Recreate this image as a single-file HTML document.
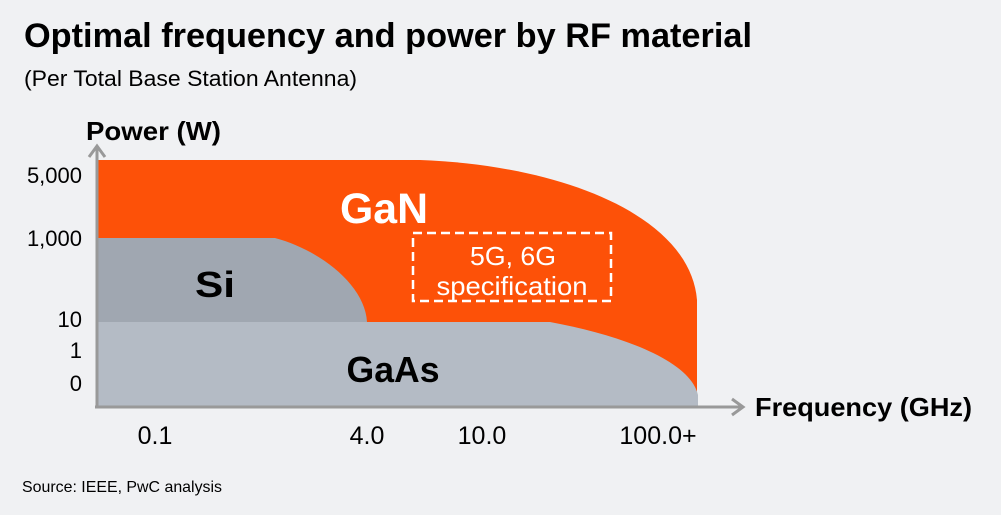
<!DOCTYPE html>
<html><head><meta charset="utf-8"><style>
body{margin:0;background:#f0f1f3;}
svg{display:block;font-family:"Liberation Sans",Arial,sans-serif;}
</style></head><body>
<svg width="1001" height="515" viewBox="0 0 1001 515">
<rect width="1001" height="515" fill="#f0f1f3"/>
<text x="24" y="47" font-size="34" font-weight="bold" fill="#000" textLength="728" lengthAdjust="spacingAndGlyphs">Optimal frequency and power by RF material</text>
<text x="24" y="86" font-size="22" fill="#000" textLength="333" lengthAdjust="spacingAndGlyphs">(Per Total Base Station Antenna)</text>
<text x="86" y="140" font-size="26" font-weight="bold" fill="#000" textLength="135" lengthAdjust="spacingAndGlyphs">Power (W)</text>
<path d="M98,160 L420,160 C560,165 690,215 697,300 L697,395 L98,395 Z" fill="#fd5108"/>
<path d="M98,238 L275,238 C320,250 365,285 367,322 L98,322 Z" fill="#a0a7b1"/>
<path d="M98,322 L550,322 C620,335 690,360 698,395 L698,407 L98,407 Z" fill="#b4bbc5"/>
<rect x="413" y="233" width="198" height="68" fill="none" stroke="#fff" stroke-width="2.5" stroke-dasharray="9,5"/>
<text x="513" y="265" font-size="26" fill="#fff" text-anchor="middle" textLength="86" lengthAdjust="spacingAndGlyphs">5G, 6G</text>
<text x="512" y="295" font-size="26" fill="#fff" text-anchor="middle" textLength="151" lengthAdjust="spacingAndGlyphs">specification</text>
<text x="384" y="223" font-size="43" font-weight="bold" fill="#fff" text-anchor="middle" textLength="88" lengthAdjust="spacingAndGlyphs">GaN</text>
<text x="215" y="297" font-size="36" font-weight="bold" fill="#000" text-anchor="middle" textLength="40" lengthAdjust="spacingAndGlyphs">Si</text>
<text x="393" y="382" font-size="36" font-weight="bold" fill="#000" text-anchor="middle" textLength="93" lengthAdjust="spacingAndGlyphs">GaAs</text>
<line x1="97" y1="408" x2="97" y2="146" stroke="#999" stroke-width="3"/>
<polyline points="89,157 97,146 105,157" fill="none" stroke="#999" stroke-width="3"/>
<line x1="95" y1="407" x2="743" y2="407" stroke="#999" stroke-width="3"/>
<polyline points="732,399 743,407 732,415" fill="none" stroke="#999" stroke-width="3"/>
<g font-size="22" fill="#000" text-anchor="end">
<text x="82" y="183">5,000</text>
<text x="82" y="246">1,000</text>
<text x="82" y="327">10</text>
<text x="82" y="358">1</text>
<text x="82" y="391">0</text>
</g>
<text x="755" y="416" font-size="26" font-weight="bold" fill="#000" textLength="217" lengthAdjust="spacingAndGlyphs">Frequency (GHz)</text>
<g font-size="25" fill="#000" text-anchor="middle">
<text x="155" y="444">0.1</text>
<text x="367" y="444">4.0</text>
<text x="482" y="444">10.0</text>
<text x="658" y="444">100.0+</text>
</g>
<text x="22" y="492" font-size="16" fill="#000" textLength="200" lengthAdjust="spacingAndGlyphs">Source: IEEE, PwC analysis</text>
</svg>
</body></html>
